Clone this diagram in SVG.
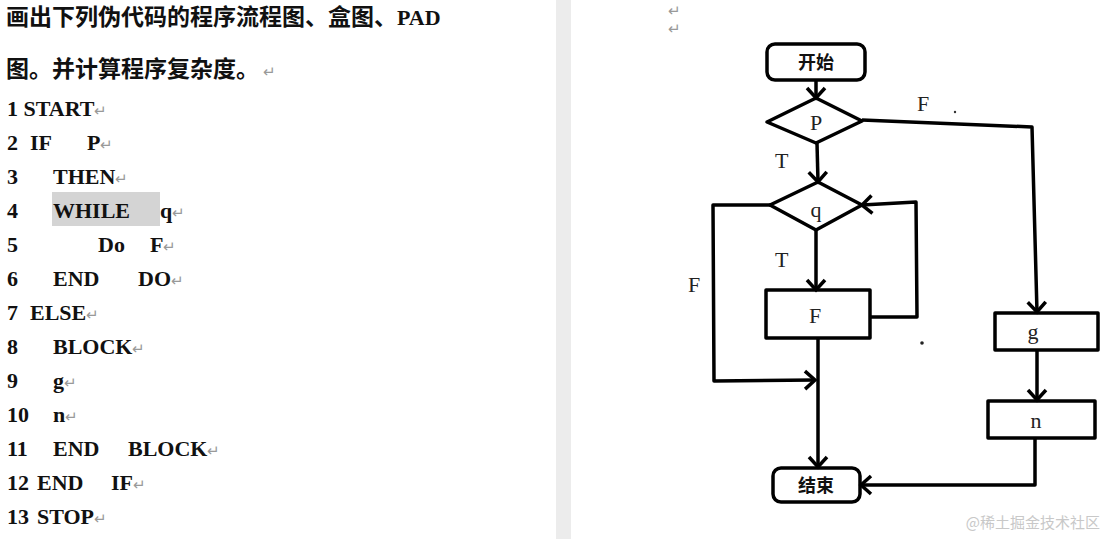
<svg xmlns="http://www.w3.org/2000/svg" width="1107" height="539" viewBox="0 0 1107 539">
<style>
.t{font-family:"Noto Sans CJK SC","Noto Sans",sans-serif;font-weight:bold;font-size:23px;fill:#111}
.c{font-family:"Liberation Serif",serif;font-weight:bold;font-size:22px;fill:#111}
.r{font-family:"Liberation Sans",sans-serif;font-size:15px;fill:#999;font-weight:normal}
.s{fill:none;stroke:#000;stroke-width:3.5;stroke-linejoin:round}
.l{font-family:"Liberation Serif",serif;font-size:22px;fill:#222}
.k{font-family:"Noto Sans CJK SC",sans-serif;font-size:18px;font-weight:bold;fill:#111}
</style>
<defs>
<marker id="a" viewBox="0 0 20 20" refX="10" refY="10" markerWidth="20" markerHeight="20" orient="auto" markerUnits="userSpaceOnUse" overflow="visible">
<path d="M0,1 L10,10 L0,19" fill="none" stroke="#000" stroke-width="3.5"/>
</marker>
</defs>
<rect width="1107" height="539" fill="#fff"/>
<rect x="556" y="0" width="15" height="539" fill="#ececec"/>
<g id="doc">
<text class="t" x="6" y="25">画出下列伪代码的程序流程图、盒图、<tspan class="c" font-size="21">PAD</tspan></text>
<text class="t" x="6" y="77">图。并计算程序复杂度。<tspan class="r" dx="4">↵</tspan></text>
<rect x="52" y="192" width="108" height="34" fill="#d4d4d4"/>
<text class="c" x="7" y="116">1 START<tspan class="r">↵</tspan></text>
<text class="c" x="7" y="150">2 <tspan x="30">IF</tspan><tspan x="87">P</tspan><tspan class="r">↵</tspan></text>
<text class="c" x="7" y="184">3<tspan x="53">THEN</tspan><tspan class="r">↵</tspan></text>
<text class="c" x="7" y="218">4<tspan x="53">WHILE</tspan><tspan x="160">q</tspan><tspan class="r">↵</tspan></text>
<text class="c" x="7" y="252">5<tspan x="98">Do</tspan><tspan x="150">F</tspan><tspan class="r">↵</tspan></text>
<text class="c" x="7" y="286">6<tspan x="53">END</tspan><tspan x="138">DO</tspan><tspan class="r">↵</tspan></text>
<text class="c" x="7" y="320">7 <tspan x="30">ELSE</tspan><tspan class="r">↵</tspan></text>
<text class="c" x="7" y="354">8<tspan x="53">BLOCK</tspan><tspan class="r">↵</tspan></text>
<text class="c" x="7" y="388">9<tspan x="53">g</tspan><tspan class="r">↵</tspan></text>
<text class="c" x="7" y="422">10<tspan x="53">n</tspan><tspan class="r">↵</tspan></text>
<text class="c" x="7" y="456">11<tspan x="53">END</tspan><tspan x="128">BLOCK</tspan><tspan class="r">↵</tspan></text>
<text class="c" x="7" y="490">12 <tspan x="37">END</tspan><tspan x="111">IF</tspan><tspan class="r">↵</tspan></text>
<text class="c" x="7" y="524">13 <tspan x="37">STOP</tspan><tspan class="r">↵</tspan></text>
<text class="r" x="668" y="16" font-size="10">↵</text>
<text class="r" x="668" y="34" font-size="10">↵</text>
</g>
<g id="connectors">
<path class="s" d="M816,80 L816,98" marker-end="url(#a)"/>
<path class="s" d="M862,120 L1032,127 L1037,312" marker-end="url(#a)"/>
<path class="s" d="M817,143 L818,182" marker-end="url(#a)"/>
<path class="s" d="M816,230 L816,290" marker-end="url(#a)"/>
<path class="s" d="M870,317 L917,317 L916,202 L862,205" marker-end="url(#a)"/>
<path class="s" d="M770,205 L713,205 L714,381 L815,380" marker-end="url(#a)"/>
<path class="s" d="M818,338 L818,467" marker-end="url(#a)"/>
<path class="s" d="M1037,350 L1037,400" marker-end="url(#a)"/>
<path class="s" d="M1035,438 L1035,485 L861,485" marker-end="url(#a)"/>
<text class="l" x="917" y="111">F</text>
<text class="l" x="775" y="168">T</text>
<text class="l" x="775" y="267">T</text>
<text class="l" x="688" y="292">F</text>
<circle cx="955" cy="112" r="1.2" fill="#333"/>
<circle cx="922" cy="343" r="1.8" fill="#222"/>
</g>
<g id="start"><rect class="s" x="767" y="44" width="98" height="36" rx="8"/><text class="k" x="816" y="69" text-anchor="middle">开始</text></g>
<g id="P"><path class="s" d="M816,98 L862,121 L816,143 L767,122 Z"/><text class="l" x="816" y="130" text-anchor="middle">P</text></g>
<g id="q"><path class="s" d="M818,182 L862,205 L816,230 L770,205 Z"/><text class="l" x="816" y="217" text-anchor="middle">q</text></g>
<g id="F"><rect class="s" x="766" y="290" width="104" height="48"/><text class="l" x="815" y="323" text-anchor="middle">F</text></g>
<g id="g"><rect class="s" x="995" y="313" width="103" height="37"/><text class="l" x="1033" y="339" text-anchor="middle">g</text></g>
<g id="n"><rect class="s" x="988" y="401" width="107" height="37"/><text class="l" x="1036" y="428" text-anchor="middle">n</text></g>
<g id="end"><rect class="s" x="773" y="468" width="87" height="34" rx="8"/><text class="k" x="816" y="492" text-anchor="middle">结束</text></g>
<text x="1100" y="528" text-anchor="end" font-family="Noto Sans CJK SC,sans-serif" font-size="15" fill="#c8c8c8">@稀土掘金技术社区</text>
</svg>
